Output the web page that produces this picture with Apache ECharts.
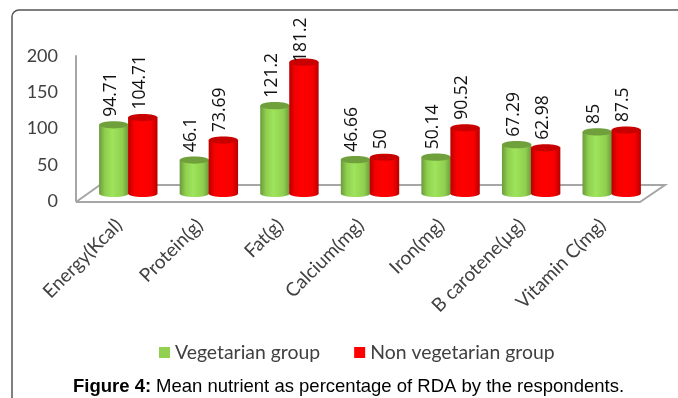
<!DOCTYPE html>
<html><head><meta charset="utf-8">
<style>html,body{margin:0;padding:0;background:#fff}#c{width:678px;height:398px}</style>
<script src="https://cdn.jsdelivr.net/npm/echarts@6/dist/echarts.min.js"></script>
</head><body><div id="c"></div>
<script>
const categories = ['Energy(Kcal)','Protein(g)','Fat(g)','Calcium(mg)','Iron(mg)','B carotene(µg)','Vitamin C(mg)'];
const vegetarian = [94.71,46.1,121.2,46.66,50.14,67.29,85];
const nonVegetarian = [104.71,73.69,181.2,50,90.52,62.98,87.5];
const yTicks = {min:0,max:200,interval:50};

const chart = echarts.init(document.getElementById('c'),null,{renderer:'canvas'});
const LG = (a,b,c)=>new echarts.graphic.LinearGradient(0,0,1,0,[
  {offset:0,color:a},{offset:.2,color:c},{offset:.45,color:b},{offset:.8,color:c},{offset:1,color:a}]);

function cylinder(palette, side){
  return function(params, api){
    const i = api.value(0), v = api.value(1);
    const band = api.size([1,0])[0];
    const w = band*0.365;
    const cx = api.coord([i,0])[0] + side*band*0.18;
    const lift = 7.5;
    const by = api.coord([i,0])[1]-lift;
    const ty = api.coord([i,v])[1]-lift;
    const fill = LG(palette.edge,palette.light,palette.body);
    const labelY = Math.max(ty-8, 62);
    return {type:'group',children:[
      {type:'ellipse',shape:{cx:cx,cy:by,rx:w/2,ry:3.6},style:{fill:fill}},
      {type:'rect',shape:{x:cx-w/2,y:ty,width:w,height:by-ty},style:{fill:fill}},
      {type:'ellipse',shape:{cx:cx,cy:ty,rx:w/2,ry:3.6},style:{fill:palette.top}},
      {type:'text',x:cx-3,y:labelY,rotation:Math.PI/2,z2:10,
       style:{text:String(v),x:0,y:0,align:'left',verticalAlign:'middle',
              font:'17.5px "Open Sans"',fill:'#111'}}
    ]};
  };
}
function floor(params, api){
  const c = params.coordSys, d = 12, b = c.y+c.height+1, r = c.x+c.width;
  return {type:'polyline',silent:true,shape:{points:[[c.x-d,b],[r-d,b],[r+d+1,b-17],[c.x+d,b-17],[c.x-d,b]]},
    style:{fill:'none',stroke:'#a6a6a6',lineWidth:2}};
}
const toData = arr => arr.map((v,i)=>[i,v]);

chart.setOption({
  animation:false,
  backgroundColor:'#fff',
  graphic:[{type:'rect',silent:true,z:-1,shape:{x:12,y:10,width:720,height:440,r:7},
    style:{fill:'none',stroke:'#555',lineWidth:1.5}}],
  grid:{left:88,top:56,width:564,height:145},
  title:{text:'{b|Figure 4:} {r|Mean nutrient as percentage of RDA by the respondents.}',
    left:73,top:377,padding:0,
    textStyle:{fontWeight:'normal',rich:{
      b:{fontFamily:'Liberation Sans',fontWeight:'bold',fontSize:18.5,color:'#000'},
      r:{fontFamily:'Liberation Sans',fontWeight:'normal',fontSize:18.5,color:'#000'}}}},
  legend:{left:154,top:338,itemWidth:11,itemHeight:11,itemGap:34,icon:'rect',
    data:['Vegetarian group','Non vegetarian group'],
    textStyle:{fontFamily:'Lato',fontSize:19.4,color:'#404040'}},
  xAxis:{type:'category',data:categories,axisLine:{show:false},axisTick:{show:false},
    axisLabel:{rotate:45,interval:0,margin:12,padding:[0,13,0,0],fontFamily:'Lato',fontSize:19,color:'#404040'}},
  yAxis:{type:'value',min:yTicks.min,max:yTicks.max,interval:yTicks.interval,offset:12,
    splitLine:{show:false},axisTick:{show:false},
    axisLine:{show:true,lineStyle:{color:'#a6a6a6',width:2}},
    axisLabel:{margin:18,padding:[3,0,0,0],fontFamily:'Lato',fontSize:18,color:'#404040'}},
  series:[
    {type:'custom',name:'floor',silent:true,z:1,data:[[0,0]],renderItem:floor,clip:false},
    {type:'custom',name:'Vegetarian group',z:2,clip:false,data:toData(vegetarian),encode:{x:0,y:1},
      itemStyle:{color:'#92d050'},
      renderItem:cylinder({edge:'#6b9a3c',light:'#9fe45c',body:'#8fcf4e',top:'#70a03c'},-1)},
    {type:'custom',name:'Non vegetarian group',z:3,clip:false,data:toData(nonVegetarian),encode:{x:0,y:1},
      itemStyle:{color:'#ff0000'},
      renderItem:cylinder({edge:'#b80000',light:'#ff0000',body:'#f60000',top:'#c80000'},1)}
  ]
});
</script></body></html>
